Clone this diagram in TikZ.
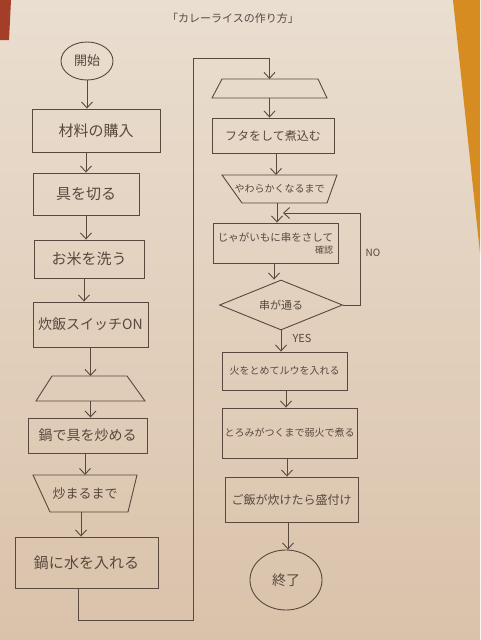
\documentclass[tikz,border=0pt]{standalone}
\usepackage{fontspec}
\setmainfont{Noto Sans CJK JP}
\usetikzlibrary{shapes.geometric,arrows.meta,calc}
\definecolor{paperTop}{RGB}{234,222,208}
\definecolor{paperBot}{RGB}{218,194,170}
\definecolor{pen}{RGB}{88,72,62}
\definecolor{tableC}{RGB}{214,140,32}
\definecolor{clothC}{RGB}{165,62,40}
\tikzset{
  ink/.style={draw=pen,line width=0.9pt},
  arr/.style={ink,-{Straight Barb[length=6pt,width=11pt]}},
  procbox/.style={ink,rectangle,inner sep=1pt,text=pen,align=center},
  trapnode/.style={rectangle,inner sep=1pt,outer sep=0pt,text=pen},
  decbox/.style={ink,diamond,inner sep=1pt,aspect=2.4,text=pen},
  termbox/.style={ink,ellipse,inner sep=1pt,text=pen},
  lbl/.style={text=pen,inner sep=1pt}
}
\begin{document}
\begin{tikzpicture}[x=1pt,y=-1pt]
\useasboundingbox (0,0) rectangle (480,640);
\shade[top color=paperTop,bottom color=paperBot] (0,0) rectangle (480,640);
\fill[tableC] (453,0) -- (480,0) -- (480,253) -- cycle;
\fill[clothC] (0,0) -- (11,0) -- (9,40) -- (0,40) -- cycle;

\node[lbl,font=\fontsize{11}{13}\selectfont] (title) at (233,18) {「カレーライスの作り方」};

% left column
\node[termbox,minimum width=52pt,minimum height=38pt,font=\fontsize{13}{15}\selectfont] (start) at (87,61) {開始};
\node[procbox,minimum width=128pt,minimum height=43pt,font=\fontsize{15}{17}\selectfont] (b1) at (96,130.5) {材料の購入};
\node[procbox,minimum width=106pt,minimum height=42pt,font=\fontsize{15}{17}\selectfont] (b2) at (86,194) {具を切る};
\node[procbox,minimum width=110pt,minimum height=38pt,font=\fontsize{15}{17}\selectfont] (b3) at (89,259) {お米を洗う};
\node[procbox,minimum width=115pt,minimum height=45pt,font=\fontsize{14}{16}\selectfont] (b4) at (90.5,324.5) {炊飯スイッチON};
\node[trapnode,minimum width=109pt,minimum height=25pt] (t1) at (90.5,388.5) {};
\draw[ink] ($(t1.north west)+(16,0)$) -- ($(t1.north east)+(-18,0)$) -- (t1.south east) -- (t1.south west) -- cycle;
\node[procbox,minimum width=119pt,minimum height=35pt,font=\fontsize{14}{16}\selectfont] (b5) at (87.5,435.5) {鍋で具を炒める};
\node[trapnode,minimum width=104pt,minimum height=37pt,font=\fontsize{13}{15}\selectfont] (t2) at (85,493.5) {炒まるまで};
\draw[ink] (t2.north west) -- (t2.north east) -- ($(t2.south east)+(-9,0)$) -- ($(t2.south west)+(17,0)$) -- cycle;
\node[procbox,minimum width=143pt,minimum height=51pt,font=\fontsize{15}{17}\selectfont] (b6) at (86.5,562.5) {鍋に水を入れる};

% right column
\node[trapnode,minimum width=115pt,minimum height=19pt] (t3) at (269.5,88.5) {};
\draw[ink] ($(t3.north west)+(10,0)$) -- ($(t3.north east)+(-9,0)$) -- (t3.south east) -- (t3.south west) -- cycle;
\node[procbox,minimum width=122pt,minimum height=35pt,font=\fontsize{12}{14}\selectfont] (b7) at (273,135.5) {フタをして煮込む};
\node[trapnode,minimum width=115pt,minimum height=28pt,font=\fontsize{10}{12}\selectfont] (t4) at (279.5,189) {やわらかくなるまで};
\draw[ink] (t4.north west) -- (t4.north east) -- ($(t4.south east)+(-10,0)$) -- ($(t4.south west)+(20,0)$) -- cycle;
\node[procbox,minimum width=125pt,minimum height=40pt,font=\fontsize{10.5}{12}\selectfont,align=right] (b8) at (275.5,243) {じゃがいもに串をさして\\{\fontsize{9}{10}\selectfont 確認}};
\node[decbox,minimum width=123pt,minimum height=50pt,font=\fontsize{11}{13}\selectfont] (d1) at (281,305) {串が通る};
\node[procbox,minimum width=125pt,minimum height=38pt,font=\fontsize{10}{12}\selectfont] (b9) at (284.5,371) {火をとめてルウを入れる};
\node[procbox,minimum width=135pt,minimum height=50pt,font=\fontsize{10}{12}\selectfont] (b10) at (289.5,433) {とろみがつくまで弱火で煮る};
\node[procbox,minimum width=133pt,minimum height=45pt,font=\fontsize{12}{14}\selectfont] (b11) at (291.5,499.5) {ご飯が炊けたら盛付け};
\node[termbox,minimum width=72pt,minimum height=60pt,font=\fontsize{14}{16}\selectfont] (stop) at (286,580) {終了};

\node[lbl,font=\fontsize{10}{12}\selectfont] (no) at (373,253) {NO};
\node[lbl,font=\fontsize{11}{13}\selectfont] (yes) at (302,338) {YES};

% connectors left
\draw[arr] (start.south) -- (start.south |- b1.north);
\draw[arr] (b1.south -| b2) -- (b2.north);
\draw[arr] (b2.south) -- (b2.south |- b3.north);
\draw[arr] (b3.south -| 84,0) -- (84,0 |- b4.north);
\draw[arr] (b4.south -| t1) -- (t1.north);
\draw[arr] (t1.south) -- (t1.south |- b5.north);
\draw[arr] (b5.south -| t2) -- (t2.north);
\draw[arr] (t2.south -| 81,0) -- (81,0 |- b6.north);

% long connector to right column
\coordinate (j1) at (78,620);
\coordinate (j2) at (193,620);
\coordinate (j3) at (193,58);
\draw[arr] (b6.south -| j1) -- (j1) -- (j2) -- (j3) -| (t3.north);

% connectors right
\draw[arr] (t3.south) -- (t3.south |- b7.north);
\draw[arr] (b7.south -| 276,0) -- (276,0 |- t4.north);
\draw[arr] (t4.south -| 277,0) -- (277,0 |- b8.north);
\draw[arr] (b8.south -| 274,0) -- (274,0 |- d1.north);
\draw[arr] (d1.south) -- (d1.south |- b9.north);
\draw[arr] (b9.south -| 286,0) -- (286,0 |- b10.north);
\draw[arr] (b10.south -| 287,0) -- (287,0 |- b11.north);
\draw[arr] (b11.south -| 288,0) -- (288,0 |- stop.north);

% NO loop
\coordinate (n1) at (360,213);
\coordinate (n2) at (283,213);
\draw[arr] (d1.east) -- (d1.east -| n1) -- (n1) -- (n2);
\end{tikzpicture}
\end{document}
